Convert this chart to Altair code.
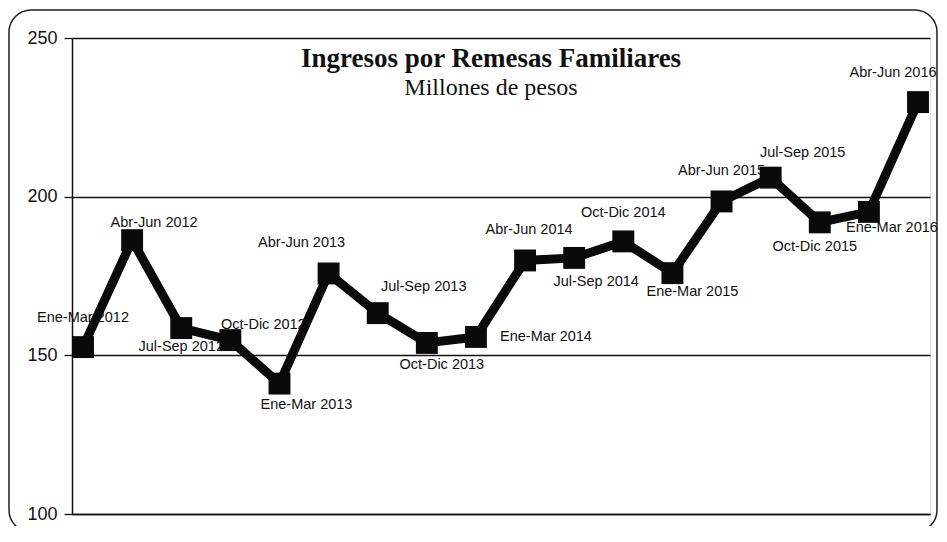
import altair as alt
import pandas as pd

quarters = ["Ene-Mar 2012", "Abr-Jun 2012", "Jul-Sep 2012", "Oct-Dic 2012",
            "Ene-Mar 2013", "Abr-Jun 2013", "Jul-Sep 2013", "Oct-Dic 2013",
            "Ene-Mar 2014", "Abr-Jun 2014", "Jul-Sep 2014", "Oct-Dic 2014",
            "Ene-Mar 2015", "Abr-Jun 2015", "Jul-Sep 2015", "Oct-Dic 2015",
            "Ene-Mar 2016", "Abr-Jun 2016"]
values = [152.6, 186.3, 158.6, 154.8, 141.1, 175.8, 163.3, 153.9, 155.8,
          179.9, 180.7, 185.9, 175.9, 198.5, 206.0, 191.9, 195.2, 229.8]
y_ticks = [100, 150, 200, 250]
title_text = "Ingresos por Remesas Familiares"
subtitle_text = "Millones de pesos"

# label placement (dx, dy) relative to each point
label_offsets = [(0, -29), (22, -17), (0, 19), (33, -15), (27, 21), (-27, -30),
                 (46, -26), (15, 22), (70, 0), (4, -30), (22, 24), (0, -28),
                 (20, 19), (0, -30), (32, -25), (-5, 25), (23, 16), (-25, -29)]

W, H = 858, 476
df = pd.DataFrame({"i": list(range(len(quarters))), "q": quarters, "v": values})

x_enc = alt.X("i:Q", scale=alt.Scale(domain=[-0.224, 17.244], nice=False, zero=False),
              axis=alt.Axis(title=None, labels=False, ticks=False, grid=False,
                            domain=True, domainColor="#111", domainWidth=1.5))
y_enc = alt.Y("v:Q", scale=alt.Scale(domain=[100, 250], nice=False, zero=False),
              axis=alt.Axis(title=None, values=y_ticks, grid=True, gridColor="#111",
                            gridWidth=1.3, gridOpacity=1, tickColor="#111", tickSize=8,
                            tickWidth=1.3, domainColor="#111", domainWidth=1.5,
                            labelFontSize=18, labelFont="Liberation Sans",
                            labelColor="#111", labelPadding=7))

base = alt.Chart(df)

label_layers = []
for k, (dx, dy) in enumerate(label_offsets):
    label_layers.append(
        base.transform_filter(alt.datum.i == k).mark_text(
            dx=dx, dy=dy, font="Liberation Sans", fontSize=14.5, color="#111",
            align="center", baseline="middle"
        ).encode(x=x_enc, y=y_enc, text="q:N")
    )

line = base.mark_line(color="#0a0a0a", strokeWidth=9, strokeJoin="miter").encode(x=x_enc, y=y_enc)
points = base.mark_square(color="#0a0a0a", size=480, opacity=1).encode(x=x_enc, y=y_enc)

one = pd.DataFrame({"t": [0]})
title = alt.Chart(one).mark_text(font="Liberation Serif", fontSize=27, fontWeight="bold",
                                 color="#111", align="center", baseline="alphabetic").encode(
    x=alt.value(419), y=alt.value(29), text=alt.value(title_text))
subtitle = alt.Chart(one).mark_text(font="Liberation Serif", fontSize=24,
                                    color="#111", align="center", baseline="alphabetic").encode(
    x=alt.value(419), y=alt.value(57), text=alt.value(subtitle_text))
box = alt.Chart(one).mark_rect(cornerRadius=22, fillOpacity=0, stroke="#222",
                               strokeWidth=1.5).encode(
    x=alt.value(-63), x2=alt.value(865), y=alt.value(-28), y2=alt.value(494))

chart = alt.layer(box, *label_layers, line, points, title, subtitle).properties(
    width=W, height=H,
    autosize=alt.AutoSizeParams(type="none"),
    padding={"left": 64, "top": 30, "right": 9, "bottom": 12},
).configure_view(stroke=None).configure(background="white")

chart.save("out.html", embed_options={"renderer": "svg", "actions": False})
